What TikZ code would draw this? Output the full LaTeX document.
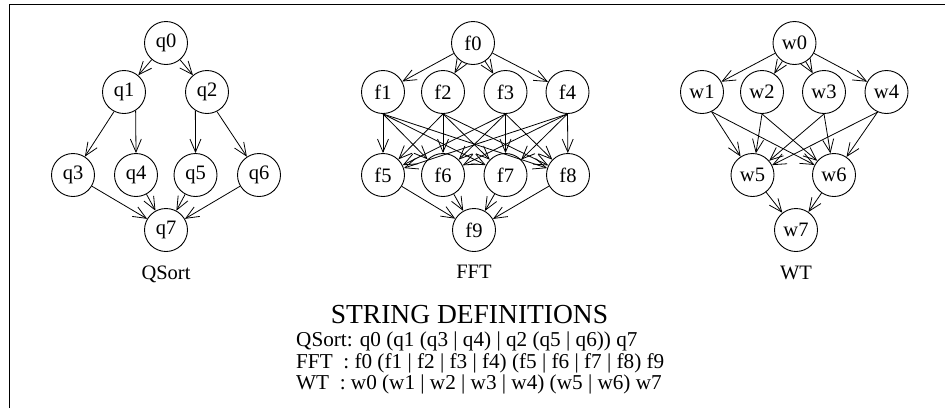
\documentclass[tikz,border=0pt]{standalone}
\usepackage{fontspec}
\setmainfont{Liberation Serif}
\usetikzlibrary{arrows.meta}
\begin{document}
\begin{tikzpicture}[x=1pt,y=-1pt,
  vtx/.style={draw,circle,line width=0.9pt,minimum size=43pt,inner sep=0pt,font=\fontsize{20.5}{24}\selectfont},
  edge/.style={draw,line width=0.8pt,-{Straight Barb[length=13pt,width=11pt,line width=0.8pt]}},
  graphlabel/.style={anchor=base,inner sep=0pt,font=\fontsize{20.5}{24}\selectfont},
  defline/.style={anchor=base west,inner sep=0pt,font=\fontsize{21.2}{24}\selectfont}]
\useasboundingbox (0,0) rectangle (945,408);
\draw[line width=1.3pt] (9.5,408) -- (9.5,4.5) -- (945,4.5);
% QSort
\node[vtx] (q0) at (166,43) {q0};
\node[vtx] (q1) at (124,92) {q1};
\node[vtx] (q2) at (207,92) {q2};
\node[vtx] (q3) at (73,175) {q3};
\node[vtx] (q4) at (136,175) {q4};
\node[vtx] (q5) at (195.5,175) {q5};
\node[vtx] (q6) at (259,175) {q6};
\node[vtx] (q7) at (166,230) {q7};
\node[graphlabel] (qlab) at (166,279) {QSort};
\path[edge] (q0) -- (q1);
\path[edge] (q0) -- (q2);
\path[edge] (q1.-117) -- (q3);
\path[edge] (q1.-58) -- (q4.north);
\path[edge] (q2.-122) -- (q5.north);
\path[edge] (q2.-63) -- (q6);
\foreach \s in {q3,q4,q5,q6} \path[edge] (\s) -- (q7);
% FFT
\node[vtx] (f0) at (473,43) {f0};
\node[vtx] (f1) at (383,92) {f1};
\node[vtx] (f2) at (443,92) {f2};
\node[vtx] (f3) at (505.5,92) {f3};
\node[vtx] (f4) at (567.5,92) {f4};
\node[vtx] (f5) at (383,175) {f5};
\node[vtx] (f6) at (443,175) {f6};
\node[vtx] (f7) at (505.5,175) {f7};
\node[vtx] (f8) at (568,175) {f8};
\node[vtx] (f9) at (474,230) {f9};
\node[graphlabel] (flab) at (474,278) {FFT};
\foreach \t in {f1,f2,f3,f4} \path[edge] (f0) -- (\t);
\foreach \s in {f1,f2,f3,f4} \foreach \t in {f5,f6,f7,f8} \path[edge] (\s.south) -- (\t);
\foreach \s in {f5,f6,f7,f8} \path[edge] (\s) -- (f9);
% WT
\node[vtx] (w0) at (794.5,43) {w0};
\node[vtx] (w1) at (702,92) {w1};
\node[vtx] (w2) at (762,92) {w2};
\node[vtx] (w3) at (824,92) {w3};
\node[vtx] (w4) at (886.5,92) {w4};
\node[vtx] (w5) at (752.5,175) {w5};
\node[vtx] (w6) at (834,175) {w6};
\node[vtx] (w7) at (796,230) {w7};
\node[graphlabel] (wlab) at (796,279) {WT};
\foreach \t in {w1,w2,w3,w4} \path[edge] (w0) -- (\t);
\foreach \t in {w5,w6} {
  \path[edge] (w1.-64) -- (\t);
  \path[edge] (w2.south) -- (\t);
  \path[edge] (w3.south) -- (\t);
  \path[edge] (w4.-114) -- (\t);
}
\foreach \s in {w5,w6} \path[edge] (\s) -- (w7);
% string definitions
\node[anchor=base,inner sep=0pt,font=\fontsize{27.5}{30}\selectfont] (title) at (469.5,323) {STRING DEFINITIONS};
\node[defline] (d1) at (296,346) {QSort: q0 (q1 (q3 | q4) | q2 (q5 | q6)) q7};
\node[defline] (d2) at (296,368) {FFT\ \ : f0 (f1 | f2 | f3 | f4) (f5 | f6 | f7 | f8) f9};
\node[defline] (d3) at (296,389) {WT\ \ : w0 (w1 | w2 | w3 | w4) (w5 | w6) w7};
\end{tikzpicture}
\end{document}
